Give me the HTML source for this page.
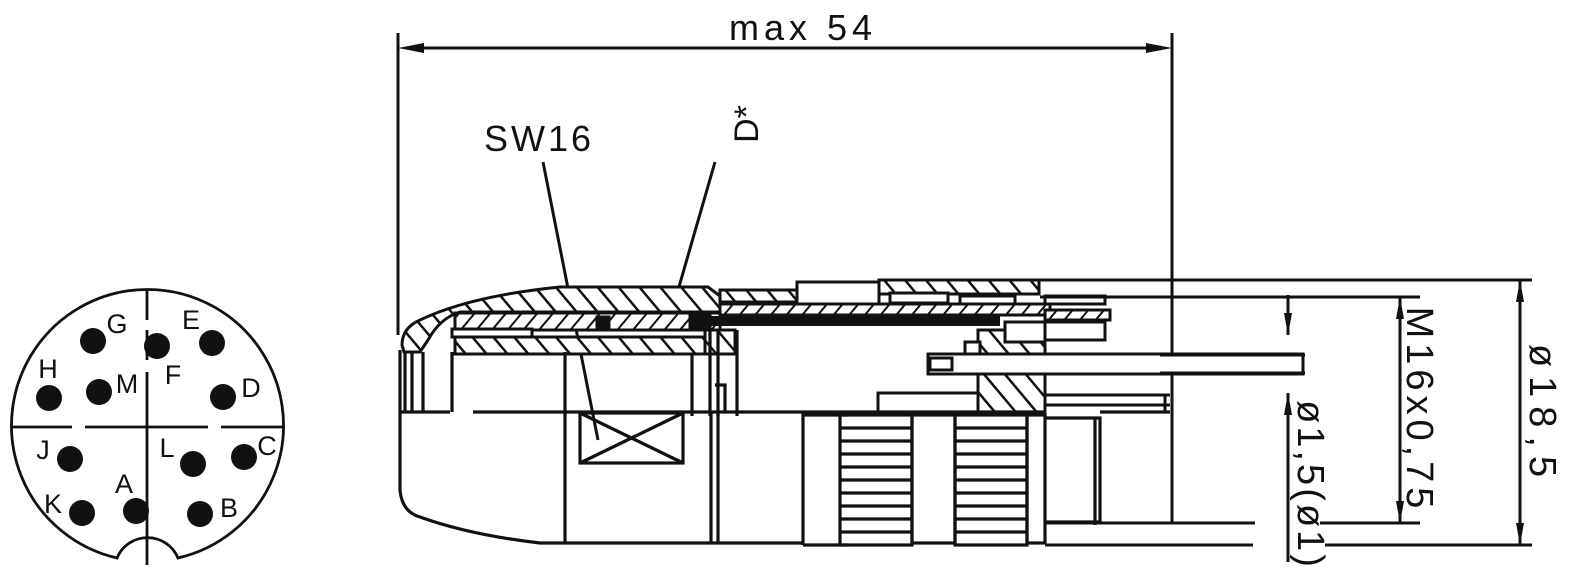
<!DOCTYPE html>
<html><head><meta charset="utf-8"><style>
html,body{margin:0;padding:0;background:#fff;}
svg{display:block;}
text{font-family:"Liberation Sans",sans-serif;fill:#111;}
</style></head><body>
<svg width="1582" height="571" viewBox="0 0 1582 571" xmlns="http://www.w3.org/2000/svg">
<defs>
<pattern id="h" patternUnits="userSpaceOnUse" width="16" height="16" patternTransform="rotate(-40)">
<rect width="16" height="16" fill="#fff"/>
<line x1="0" y1="0" x2="0" y2="16" stroke="#111" stroke-width="5"/>
</pattern>
<pattern id="h2" patternUnits="userSpaceOnUse" width="12" height="12" patternTransform="rotate(40)">
<rect width="12" height="12" fill="#fff"/>
<line x1="0" y1="0" x2="0" y2="12" stroke="#111" stroke-width="4"/>
</pattern>
<marker id="a" markerWidth="22" markerHeight="10" refX="22" refY="5" orient="auto" markerUnits="userSpaceOnUse">
<path d="M0,1 L22,5 L0,9 Z" fill="#111"/></marker>
</defs>
<g stroke="#111" fill="none" stroke-width="2.8">
<path d="M117,558 A136,136 0 1 1 178,558 A33,33 0 0 0 117,558 Z"/>
<path d="M147,290 V320 M147,330 V360 M147,372 V565 M11,427 H72 M85,427 H208 M221,427 H283"/>
</g>
<g fill="#111">
<circle cx="93" cy="341" r="13"/><circle cx="157" cy="346" r="13"/><circle cx="212" cy="343" r="13"/>
<circle cx="49" cy="398" r="13"/><circle cx="99" cy="392" r="13"/><circle cx="223" cy="397" r="13"/>
<circle cx="70" cy="459" r="13"/><circle cx="193" cy="464" r="13"/><circle cx="244" cy="457" r="13"/>
<circle cx="82" cy="513" r="13"/><circle cx="136" cy="511" r="13"/><circle cx="200" cy="514" r="13"/>
</g>
<g font-size="27" text-anchor="middle">
<text x="117" y="333">G</text><text x="191" y="329">E</text><text x="48" y="378">H</text>
<text x="127" y="393">M</text><text x="173" y="384">F</text><text x="251" y="397">D</text>
<text x="43" y="459">J</text><text x="167" y="457">L</text><text x="267" y="455">C</text>
<text x="53" y="513">K</text><text x="124" y="493">A</text><text x="229" y="517">B</text>
</g>

<g stroke="#111" stroke-width="3" fill="none">
<path d="M398,33 V335 M1172,33 V522"/>
<line x1="420" y1="48" x2="1150" y2="48"/>
</g>
<path d="M398,48 L424,43 L424,53 Z M1172,48 L1146,43 L1146,53 Z" fill="#111"/>
<text x="803" y="40" font-size="36" text-anchor="middle" letter-spacing="5">max 54</text>
<text x="539" y="151" font-size="36" text-anchor="middle" letter-spacing="3">SW16</text>
<text font-size="34" text-anchor="middle" transform="translate(758,124) rotate(-90)">D*</text>
<g stroke="#111" stroke-width="3">
<line x1="543" y1="162" x2="598" y2="440"/>
<line x1="715" y1="162" x2="670" y2="318"/>
</g>

<g stroke="#111" stroke-width="3">
<path d="M402,345 Q402,328 420,320 Q470,296 560,287 L708,287 L720,296 L720,312 L460,312 Q440,318 428,340 L420,352 L404,352 Z" fill="url(#h)"/>
<rect x="455" y="313" width="265" height="17" fill="url(#h2)"/>
<rect x="455" y="337" width="250" height="17" fill="url(#h)"/>
<rect x="452" y="329" width="80" height="8" fill="#fff"/>
<rect x="597" y="317" width="12" height="11" fill="#111"/>
<rect x="690" y="316" width="20" height="12" fill="#111"/>
<rect x="720" y="290" width="78" height="12" fill="url(#h)"/>
<rect x="797" y="282" width="82" height="22" fill="#fff"/>
<rect x="879" y="280" width="160" height="14" fill="url(#h)"/>
<rect x="890" y="293" width="58" height="10" fill="#fff"/>
<rect x="960" y="296" width="55" height="10" fill="#fff"/>
<rect x="720" y="304" width="330" height="11" fill="url(#h2)"/>
<rect x="1045" y="296" width="60" height="8" fill="#fff"/>
<rect x="1045" y="310" width="65" height="10" fill="url(#h2)"/>
<rect x="710" y="316" width="290" height="10" fill="#111" stroke="none"/>
<rect x="705" y="330" width="30" height="24" fill="url(#h)"/>
<path d="M978,330 L1045,330 L1045,415 L978,415 Z" fill="url(#h)"/>
<rect x="1005" y="322" width="40" height="20" fill="#fff"/>
<rect x="1045" y="322" width="60" height="18" fill="#fff"/>
<rect x="965" y="342" width="15" height="14" fill="#fff"/>
<rect x="928" y="354" width="375" height="20" fill="#fff"/>
<rect x="930" y="358" width="22" height="12" fill="#fff"/>
<rect x="878" y="393" width="100" height="22" fill="#fff"/>
<path d="M1045,395 H1170 M1045,405 H1170 M1165,395 V412" fill="none"/>
</g>
<g stroke="#111" stroke-width="3.2" fill="none">
<path d="M405,352 V412 M412,352 V412 M423,352 V412 M452,352 V412 M565,352 V416 M692,354 V416 M710,330 V416 M718,330 V416 M737,330 V416"/>
<path d="M715,385 H725 V412"/>
<path d="M400,412 H450 M473,412 H1045 M1100,412 H1170"/>
<path d="M400,350 V490 Q402,512 420,517 Q470,535 540,543 L718,543"/>
<path d="M565,412 V543 M711,412 V543 M718,412 V543 M803,412 V545 M718,543 H803"/>
<rect x="580" y="413" width="103" height="50"/>
<path d="M580,463 L683,413 M580,413 L683,463"/>
<path d="M803,415 H848 M803,545 H848"/>
<rect x="840" y="415" width="72" height="130"/>
<rect x="912" y="415" width="43" height="128"/>
<rect x="955" y="415" width="72" height="130"/>
<rect x="1027" y="415" width="18" height="128"/>
<path d="M1045,418 H1100 V522 H1045 M1095,418 V525"/>
</g>
<g stroke="#111" stroke-width="3.2">
<path d="M840,428H912M840,441H912M840,454H912M840,467H912M840,480H912M840,493H912M840,506H912M840,519H912M840,532H912"/>
<path d="M955,428H1027M955,441H1027M955,454H1027M955,467H1027M955,480H1027M955,493H1027M955,506H1027M955,519H1027M955,532H1027"/>
</g>

<g stroke="#111" stroke-width="3" fill="none">
<path d="M1040,280 H1532 M1040,297 H1420 M1160,355 H1305 M1160,373 H1305 M1045,523 H1255 M1320,523 H1420 M1045,545 H1253 M1325,545 H1532"/>
<line x1="1288" y1="295" x2="1288" y2="335" marker-end="url(#a)"/>
<line x1="1288" y1="562" x2="1288" y2="393" marker-end="url(#a)"/>
<line x1="1400" y1="410" x2="1400" y2="297" marker-end="url(#a)"/>
<line x1="1400" y1="410" x2="1400" y2="523" marker-end="url(#a)"/>
<line x1="1520" y1="410" x2="1520" y2="280" marker-end="url(#a)"/>
<line x1="1520" y1="410" x2="1520" y2="545" marker-end="url(#a)"/>
</g>
<g font-size="38" text-anchor="middle">
<text transform="translate(1298,485) rotate(90)" letter-spacing="3">ø1,5(ø1)</text>
<text transform="translate(1407,410) rotate(90)" letter-spacing="5">M16x0,75</text>
<text transform="translate(1530,415) rotate(90)" letter-spacing="9">ø18,5</text>
</g>
</svg>
</body></html>
